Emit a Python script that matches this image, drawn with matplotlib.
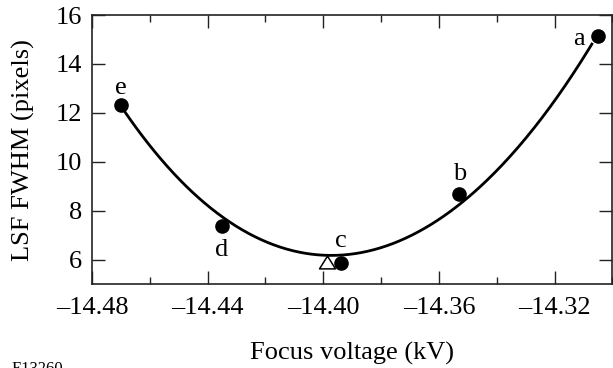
import numpy as np
import matplotlib
matplotlib.use("Agg")
import matplotlib.pyplot as plt
from matplotlib.ticker import MultipleLocator

# measured points (focus voltage kV, LSF FWHM pixels)
labels = ["a", "b", "c", "d", "e"]
voltage = [-14.305, -14.353, -14.394, -14.435, -14.470]
fwhm = [15.13, 8.69, 5.88, 7.39, 12.31]

# best-focus estimate (open triangle)
best_v = [-14.3986]
best_fwhm = [5.90]

# fitted curve, samples
curve_v = [-14.4692, -14.4658, -14.4542, -14.4428, -14.4336, -14.4255,
           -14.4200, -14.4106, -14.3991, -14.3899, -14.3761, -14.3600,
           -14.3497, -14.3382, -14.3267, -14.3152, -14.3071]
curve_fwhm = [12.07, 11.60, 10.01, 8.43, 7.54, 7.02,
              6.75, 6.44, 6.20, 6.22, 6.60, 7.71,
              8.57, 9.81, 11.46, 13.31, 14.82]

plt.rcParams['font.family'] = ['Liberation Serif', 'DejaVu Serif']

fig = plt.figure(figsize=(6.13, 3.68), dpi=100)
ax = fig.add_axes([0.150, 0.228, 0.849, 0.731])

# smooth the read samples
coef = np.polyfit(curve_v, curve_fwhm, 4)
xs = np.linspace(min(curve_v), max(curve_v), 300)
ax.plot(xs, np.polyval(coef, xs), color='black', lw=2.0, zorder=2)

ax.plot(voltage, fwhm, 'o', color='black', ms=9.5, zorder=3)

tri = [(0, 0.8), (-1, -0.8), (1, -0.8), (0, 0.8)]
ax.plot(best_v, best_fwhm, marker=tri, ms=11.5, mfc='white', mec='black',
        mew=1.1, ls='none', zorder=4)

# point letters (baseline offsets in points)
offsets = {"a": (-14, -6), "b": (0, 10), "c": (0, 11), "d": (0, -21.5), "e": (0, 8)}
for lab, x, y in zip(labels, voltage, fwhm):
    dx, dy = offsets[lab]
    ax.annotate(lab, (x, y), xytext=(dx, dy), textcoords='offset points',
                ha='center', va='baseline', fontsize=19)

ax.set_xlim(-14.48, -14.30)
ax.set_ylim(5, 16)
ax.xaxis.set_major_locator(MultipleLocator(0.04))
ax.xaxis.set_minor_locator(MultipleLocator(0.02))
ax.set_yticks([6, 8, 10, 12, 14, 16])

ax.tick_params(which='major', direction='in', length=9.5, width=1.0,
               top=True, right=True, labelsize=19, color='#222222')
ax.tick_params(which='minor', direction='in', length=4.8, width=1.0,
               top=True, right=True, color='#222222')
ax.tick_params(axis='x', pad=9)
ax.tick_params(axis='y', pad=7)
ax.xaxis.set_major_formatter(plt.FuncFormatter(lambda v, p: f"\u2013{abs(v):.2f}"))

for s in ax.spines.values():
    s.set_linewidth(1.2)
    s.set_color('#222222')

ax.set_xlabel('Focus voltage (kV)', fontsize=19, labelpad=17)
ax.set_ylabel('LSF FWHM (pixels)', fontsize=19, labelpad=15)

fig.text(0.018, -0.0136, 'E13260', fontsize=12, ha='left', va='baseline')

fig.savefig('out.png', dpi=100)
